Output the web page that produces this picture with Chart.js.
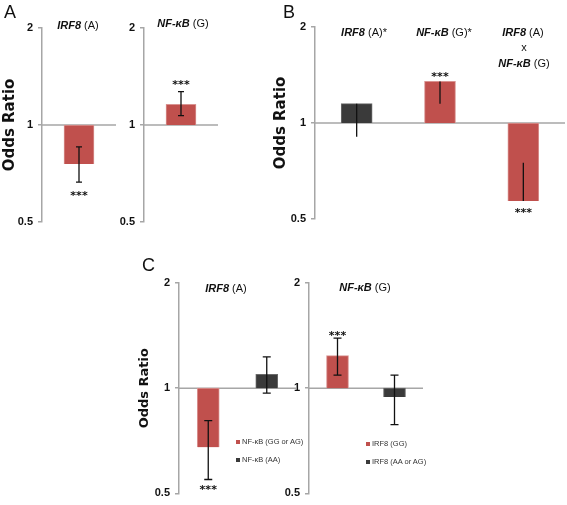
<!DOCTYPE html>
<html>
<head>
<meta charset="utf-8">
<script src="https://cdn.jsdelivr.net/npm/chart.js@4.4.1/dist/chart.umd.min.js"></script>
<style>
body { margin: 0; background: #fff; width: 567px; height: 505px; position: relative; overflow: hidden; font-family: 'Liberation Sans', Arial, sans-serif; }
canvas { position: absolute; }
.lbl { position: absolute; transform: translate(-50%, -50%); white-space: nowrap; font-size: 11px; color: #111; line-height: 1; }
.lbl i { font-weight: bold; }
.letter { position: absolute; font-size: 18px; line-height: 1; color: #111; }
.leg { position: absolute; font-size: 7.5px; color: #333; white-space: nowrap; line-height: 1; }
.leg span { display: inline-block; width: 4px; height: 4px; margin-right: 2px; vertical-align: middle; }
</style>
</head>
<body>
<script>
const RED = '#c0504d', RED_EDGE = '#d99391';
const DARK = '#3a3a3a', DARK_EDGE = '#6a6a6a';

// y axis ticks (odds ratio, log scale)
const yTicks = [0.5, 1, 2];

// panel A - main effects
const aCats = ['IRF8 (A)', 'NF-κB (G)'];
const aOR = [0.757, 1.16];
const aLow = [0.665, 1.07];
const aHigh = [0.855, 1.27];
const aSig = ['***', '***'];

// panel B - joint model
const bCats = ['IRF8 (A)*', 'NF-κB (G)*', 'IRF8 (A) x NF-κB (G)'];
const bOR = [1.15, 1.35, 0.569];
const bLow = [0.905, 1.15, 0.569];
const bHigh = [1.15, 1.35, 0.751];
const bSig = ['', '***', '***'];
const bColors = [DARK, RED, RED];

// panel C - stratified
const c1Groups = ['NF-κB (GG or AG)', 'NF-κB (AA)'];
const c1OR = [0.678, 1.095];
const c1Low = [0.548, 0.968];
const c1High = [0.808, 1.23];
const c1Sig = ['***', ''];

const c2Groups = ['IRF8 (GG)', 'IRF8 (AA or AG)'];
const c2OR = [1.24, 0.943];
const c2Low = [1.09, 0.787];
const c2High = [1.39, 1.09];
const c2Sig = ['***', ''];

// gene name in bold italic, allele part plain
function fmt(s) {
  const k = s.indexOf(' ');
  if (k < 0) return s;
  return '<i>' + s.slice(0, k) + '</i>' + s.slice(k);
}

function addLabel(html, cx, cy, cls) {
  const d = document.createElement('div');
  d.className = cls || 'lbl';
  d.innerHTML = html;
  d.style.left = cx + 'px';
  d.style.top = cy + 'px';
  document.body.appendChild(d);
}

function addLegend(items, colors, x, y, step) {
  items.forEach((t, i) => {
    const d = document.createElement('div');
    d.className = 'leg';
    d.innerHTML = '<span style="background:' + colors[i] + '"></span>' + t;
    d.style.left = x + 'px';
    d.style.top = (y + i * step - 4) + 'px';
    document.body.appendChild(d);
  });
}

// reference line at OR = 1, error bars and significance stars
function marks(or, low, high, sig, cap, gap) {
  return {
    id: 'marks',
    beforeDatasetsDraw(chart) {
      const { ctx, chartArea, scales: { y } } = chart;
      const yy = y.getPixelForValue(1);
      ctx.save();
      ctx.strokeStyle = '#a6a6a6';
      ctx.lineWidth = 1.5;
      ctx.beginPath();
      ctx.moveTo(chartArea.left, yy);
      ctx.lineTo(chartArea.right, yy);
      ctx.stroke();
      ctx.restore();
    },
    afterDatasetsDraw(chart) {
      const { ctx, scales: { y } } = chart;
      const meta = chart.getDatasetMeta(0);
      ctx.save();
      meta.data.forEach((bar, i) => {
        const lo = y.getPixelForValue(low[i]);
        const hi = y.getPixelForValue(high[i]);
        ctx.strokeStyle = '#111';
        ctx.lineWidth = 1.3;
        ctx.beginPath();
        ctx.moveTo(bar.x, lo);
        ctx.lineTo(bar.x, hi);
        if (cap) {
          ctx.moveTo(bar.x - cap, lo); ctx.lineTo(bar.x + cap, lo);
          ctx.moveTo(bar.x - cap, hi); ctx.lineTo(bar.x + cap, hi);
        }
        ctx.stroke();
        if (sig[i]) {
          const cy = or[i] < 1 ? lo + gap : hi - gap;
          ctx.font = 'bold 11px "DejaVu Sans"';
          ctx.textAlign = 'center';
          ctx.textBaseline = 'alphabetic';
          ctx.fillStyle = '#111';
          ctx.fillText(sig[i], bar.x, cy + 6.5);
        }
      });
      ctx.restore();
    }
  };
}

function oddsChart(box, cats, or, low, high, sig, colors, o) {
  const cv = document.createElement('canvas');
  cv.width = box.w; cv.height = box.h;
  cv.style.left = box.x + 'px'; cv.style.top = box.y + 'px';
  document.body.appendChild(cv);
  return new Chart(cv, {
    type: 'bar',
    data: {
      labels: cats,
      datasets: [{
        data: or.map(v => [1, v]),
        backgroundColor: colors,
        borderColor: colors.map(c => c === RED ? RED_EDGE : DARK_EDGE),
        borderWidth: 1,
        borderSkipped: 'start',
        barThickness: o.barW
      }]
    },
    options: {
      responsive: false,
      animation: false,
      layout: { padding: { left: 0, right: o.padR, top: o.padT, bottom: o.padB } },
      plugins: { legend: { display: false }, tooltip: { enabled: false }, title: { display: false } },
      scales: {
        x: { display: false, offset: true },
        y: {
          type: 'logarithmic',
          min: 0.5,
          max: 2,
          afterFit: s => { s.width = o.axisW; },
          afterBuildTicks: s => { s.ticks = yTicks.map(v => ({ value: v })); },
          ticks: {
            callback: v => String(v),
            font: { family: 'Liberation Sans', weight: 'bold', size: 11 },
            color: '#111',
            padding: 5
          },
          grid: { drawOnChartArea: false, tickLength: 4, color: '#a6a6a6', lineWidth: 1.5 },
          border: { color: '#a6a6a6', width: 1.5 },
          title: {
            display: !!o.title,
            text: 'Odds Ratio',
            font: { family: 'DejaVu Sans', weight: 'bold', size: o.titleSize || 15 },
            color: '#111',
            padding: { top: o.titlePad || 0, bottom: 0 }
          }
        }
      }
    },
    plugins: [marks(or, low, high, sig, o.cap, o.gap)]
  });
}

// panel A
oddsChart({ x: 0, y: 0, w: 120, h: 240 }, [aCats[0]], [aOR[0]], [aLow[0]], [aHigh[0]], [aSig[0]], [RED],
  { axisW: 42, padR: 4, padT: 28, padB: 18, barW: 30, cap: 3, gap: 10, title: true, titleSize: 15, titlePad: 1 });
oddsChart({ x: 120, y: 0, w: 100, h: 240 }, [aCats[1]], [aOR[1]], [aLow[1]], [aHigh[1]], [aSig[1]], [RED],
  { axisW: 24, padR: 2, padT: 28, padB: 18, barW: 30, cap: 3, gap: 10 });

// panel B
oddsChart({ x: 270, y: 0, w: 297, h: 240 }, bCats, bOR, bLow, bHigh, bSig, bColors,
  { axisW: 45, padR: 2, padT: 27, padB: 21, barW: 31, cap: 0, gap: 8, title: true, titleSize: 15, titlePad: 2 });

// panel C
oddsChart({ x: 130, y: 250, w: 170, h: 255 }, c1Groups, c1OR, c1Low, c1High, c1Sig, [RED, DARK],
  { axisW: 49, padR: 4, padT: 33, padB: 8, barW: 22, cap: 4, gap: 7, title: true, titleSize: 13, titlePad: 7 });
oddsChart({ x: 280, y: 250, w: 150, h: 255 }, c2Groups, c2OR, c2Low, c2High, c2Sig, [RED, DARK],
  { axisW: 29, padR: 7, padT: 33, padB: 7, barW: 22, cap: 4, gap: 6 });

// panel letters
addLabel('A', 4, 3, 'letter');
addLabel('B', 283, 3, 'letter');
addLabel('C', 142, 256, 'letter');

// subplot titles
addLabel(fmt(aCats[0]), 78, 25);
addLabel(fmt(aCats[1]), 183, 23);
addLabel(fmt(bCats[0]), 364, 32);
addLabel(fmt(bCats[1]), 444, 32);
addLabel(fmt('IRF8 (A)'), 523, 32);
addLabel('x', 524, 47);
addLabel(fmt('NF-κB (G)'), 524, 63);
addLabel(fmt('IRF8 (A)'), 226, 288);
addLabel(fmt('NF-κB (G)'), 365, 287);

// legends for panel C
addLegend(c1Groups, [RED, DARK], 236, 442, 18);
addLegend(c2Groups, [RED, DARK], 366, 444, 18);
</script>
</body>
</html>
